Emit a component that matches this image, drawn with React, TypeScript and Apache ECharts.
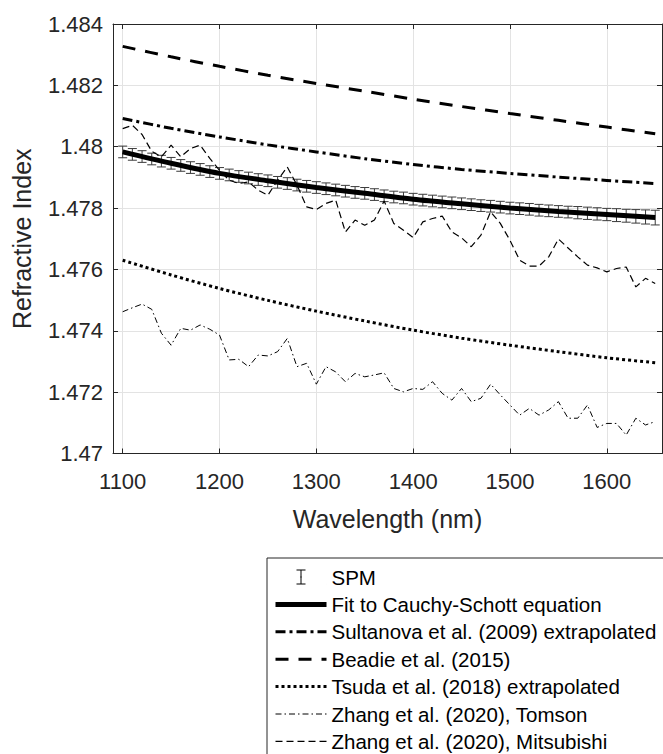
import React, { useEffect, useRef } from 'react';
import * as echarts from 'echarts';

const FONT = "'Liberation Sans', Arial, Helvetica, sans-serif";

// Smooth model curves (sampled every 50 nm)
const coarseWavelengths = [1100, 1150, 1200, 1250, 1300, 1350, 1400, 1450, 1500, 1550, 1600, 1650];
const fitValues = [1.47983, 1.47946, 1.47913, 1.47889, 1.47867, 1.47848, 1.47829, 1.47814, 1.478, 1.47789, 1.47779, 1.47769];
const sultanovaValues = [1.48092, 1.4806, 1.48032, 1.48006, 1.47983, 1.47961, 1.47942, 1.47926, 1.47913, 1.47901, 1.4789, 1.4788];
const beadieValues = [1.48327, 1.48293, 1.48262, 1.48233, 1.48206, 1.48181, 1.48155, 1.48131, 1.48108, 1.48086, 1.48064, 1.48042];
const tsudaValues = [1.4763, 1.47582, 1.47538, 1.47499, 1.47464, 1.47432, 1.47402, 1.47376, 1.47353, 1.47332, 1.47312, 1.47296];

// Measured data (every 10 nm)
const fineWavelengths = [
  1100, 1110, 1120, 1130, 1140, 1150, 1160, 1170, 1180, 1190,
  1200, 1210, 1220, 1230, 1240, 1250, 1260, 1270, 1280, 1290,
  1300, 1310, 1320, 1330, 1340, 1350, 1360, 1370, 1380, 1390,
  1400, 1410, 1420, 1430, 1440, 1450, 1460, 1470, 1480, 1490,
  1500, 1510, 1520, 1530, 1540, 1550, 1560, 1570, 1580, 1590,
  1600, 1610, 1620, 1630, 1640, 1650,
];
const spmValues = [
  1.47983, 1.47975, 1.47968, 1.4796, 1.47953, 1.47946, 1.47939, 1.47932, 1.47926, 1.47919,
  1.47913, 1.47908, 1.47903, 1.47898, 1.47893, 1.47889, 1.47884, 1.4788, 1.47875, 1.47871,
  1.47867, 1.47863, 1.47859, 1.47855, 1.47851, 1.47848, 1.47844, 1.4784, 1.47836, 1.47833,
  1.47829, 1.47826, 1.47823, 1.4782, 1.47817, 1.47814, 1.47811, 1.47808, 1.47806, 1.47803,
  1.478, 1.47798, 1.47796, 1.47793, 1.47791, 1.47789, 1.47787, 1.47785, 1.47783, 1.47781,
  1.47779, 1.47777, 1.47775, 1.47773, 1.47771, 1.47769,
];
const spmErrors = [
  0.00019, 0.00019, 0.00019, 0.00019, 0.00019, 0.00019, 0.00019, 0.00019, 0.00019, 0.00019,
  0.00019, 0.00019, 0.00019, 0.00019, 0.00019, 0.00019, 0.00019, 0.00019, 0.00019, 0.00019,
  0.00019, 0.00019, 0.00019, 0.00019, 0.00019, 0.00019, 0.00019, 0.00019, 0.00019, 0.00019,
  0.00019, 0.00019, 0.00019, 0.00019, 0.00019, 0.00019, 0.00019, 0.00019, 0.00019, 0.00019,
  0.00019, 0.00019, 0.00019, 0.00019, 0.00019, 0.00019, 0.00019, 0.0002, 0.0002, 0.0002,
  0.0002, 0.00021, 0.00021, 0.00022, 0.00023, 0.00024,
];
const tomsonValues = [
  1.47462, 1.47475, 1.47487, 1.4747, 1.47392, 1.47353, 1.47408, 1.47402, 1.47419, 1.47405,
  1.47386, 1.47305, 1.47307, 1.47283, 1.47321, 1.47318, 1.47332, 1.47375, 1.47283, 1.47294,
  1.47226, 1.47283, 1.47266, 1.47234, 1.47261, 1.4725, 1.47256, 1.47263, 1.47212, 1.47201,
  1.47212, 1.47209, 1.47234, 1.47196, 1.47174, 1.47212, 1.47169, 1.4718, 1.47226, 1.47191,
  1.47158, 1.47125, 1.47147, 1.47125, 1.47142, 1.47169, 1.47115, 1.47115, 1.47158, 1.47085,
  1.47098, 1.47098, 1.4706, 1.47115, 1.47093, 1.47104,
];
const mitsubishiValues = [
  1.48059, 1.4807, 1.4804, 1.47985, 1.47967, 1.48005, 1.47967, 1.47994, 1.48005, 1.47962,
  1.47923, 1.47891, 1.4788, 1.47885, 1.47858, 1.47842, 1.47891, 1.47934, 1.47875, 1.47804,
  1.47795, 1.47815, 1.47826, 1.47722, 1.47761, 1.47744, 1.47761, 1.47823, 1.4775, 1.47728,
  1.47704, 1.47755, 1.47766, 1.47774, 1.47722, 1.47703, 1.47674, 1.47712, 1.47788, 1.4775,
  1.47695, 1.4763, 1.47611, 1.47611, 1.47641, 1.47699, 1.4767, 1.47641, 1.47614, 1.47605,
  1.47592, 1.47603, 1.47608, 1.47543, 1.47571, 1.47554,
];

const xTicks = [1100, 1200, 1300, 1400, 1500, 1600];
const seriesNames = [
  'SPM',
  'Fit to Cauchy-Schott equation',
  'Sultanova et al. (2009) extrapolated',
  'Beadie et al. (2015)',
  'Tsuda et al. (2018) extrapolated',
  'Zhang et al. (2020), Tomson',
  'Zhang et al. (2020), Mitsubishi',
];

const AXIS_COLOR = '#262626';
const GRID_COLOR = '#e3e3e3';

const zip = (xs: number[], ys: number[]) => xs.map((x, i) => [x, ys[i]]);

export default function App() {
  const ref = useRef<HTMLDivElement>(null);

  useEffect(() => {
    if (!ref.current) return;
    const chart = echarts.init(ref.current, undefined, { renderer: 'svg' });

    const spmData = fineWavelengths.map((w, i) => [w, spmValues[i], spmErrors[i]]);

    const baseX = {
      type: 'value' as const,
      min: 1090,
      max: 1657,
      axisLine: { show: true, onZero: false, lineStyle: { color: AXIS_COLOR, width: 1 } },
      axisTick: { show: true, inside: true, length: 5, customValues: xTicks, lineStyle: { color: AXIS_COLOR } },
    };
    const baseY = {
      type: 'value' as const,
      min: 1.47,
      max: 1.484,
      interval: 0.002,
      axisLine: { show: true, onZero: false, lineStyle: { color: AXIS_COLOR, width: 1 } },
      axisTick: { show: true, inside: true, length: 5, lineStyle: { color: AXIS_COLOR } },
    };

    const lineSeries = (name: string, xs: number[], ys: number[], width: number, type: any, smooth: boolean, z: number) => ({
      name,
      type: 'line' as const,
      data: zip(xs, ys),
      symbol: 'none',
      showSymbol: false,
      smooth: smooth ? 0.3 : false,
      z,
      lineStyle: { color: '#000', width, type, cap: 'butt' },
      itemStyle: { color: '#000' },
    });

    const spmIcon =
      'path://M0,0 L0.01,0 M21,0 L30,0 M25.5,0 L25.5,14 M21,14 L30,14 M25,7 L26,7 M51,14 L50.99,14';

    const hiddenSymbol = { opacity: 0, color: 'rgba(0,0,0,0)', borderWidth: 0 };
    const legendLine = (name: string, width: number) => ({
      name,
      itemStyle: hiddenSymbol,
      lineStyle: { width, color: '#000' },
    });

    chart.setOption({
      animation: false,
      backgroundColor: '#fff',
      grid: { left: 113, right: 1, top: 24, bottom: 300.5, containLabel: false },
      xAxis: [
        {
          ...baseX,
          position: 'bottom',
          axisLabel: {
            show: true,
            customValues: xTicks,
            fontSize: 22,
            color: AXIS_COLOR,
            fontFamily: FONT,
            margin: 17,
            formatter: (v: number) => String(v),
          },
          splitLine: { show: true, lineStyle: { color: GRID_COLOR, width: 1 } },
          name: 'Wavelength (nm)',
          nameLocation: 'middle',
          nameGap: 53,
          nameTextStyle: { fontSize: 25, color: AXIS_COLOR, fontFamily: FONT },
        },
        {
          ...baseX,
          position: 'top',
          axisLabel: { show: false },
          splitLine: { show: false },
        },
      ],
      yAxis: [
        {
          ...baseY,
          position: 'left',
          axisLabel: {
            show: true,
            fontSize: 22,
            color: AXIS_COLOR,
            fontFamily: FONT,
            margin: 10,
            formatter: (v: number) => String(Number(v.toFixed(3))),
          },
          splitLine: { show: true, lineStyle: { color: GRID_COLOR, width: 1 } },
          name: 'Refractive Index',
          nameLocation: 'middle',
          nameGap: 79,
          nameTextStyle: { fontSize: 25, color: AXIS_COLOR, fontFamily: FONT },
        },
        {
          ...baseY,
          position: 'right',
          axisLabel: { show: false },
          splitLine: { show: false },
        },
      ],
      legend: {
        orient: 'vertical',
        left: 267,
        top: 558,
        height: 230,
        padding: [8, 60, 40, 6],
        borderColor: AXIS_COLOR,
        borderWidth: 1,
        backgroundColor: '#fff',
        itemWidth: 51,
        itemHeight: 14,
        itemGap: 5.4,
        textStyle: { fontSize: 20.5, color: '#000', fontFamily: FONT, lineHeight: 22 },
        data: [
          { name: seriesNames[0], icon: spmIcon, itemStyle: { color: 'none', borderColor: '#000', borderWidth: 1 } },
          legendLine(seriesNames[1], 5),
          legendLine(seriesNames[2], 3),
          legendLine(seriesNames[3], 3),
          legendLine(seriesNames[4], 3),
          legendLine(seriesNames[5], 1),
          legendLine(seriesNames[6], 1.2),
        ],
      },
      series: [
        {
          name: seriesNames[0],
          type: 'custom',
          z: 1,
          data: spmData,
          encode: { x: 0, y: 1 },
          itemStyle: { color: '#333' },
          renderItem: (params: any, api: any) => {
            const x = api.value(0);
            const y = api.value(1);
            const e = api.value(2);
            const top = api.coord([x, y + e]);
            const bot = api.coord([x, y - e]);
            const hw = 4.5;
            const style = { stroke: '#3a3a3a', lineWidth: 1, fill: 'none' };
            return {
              type: 'group',
              children: [
                { type: 'line', shape: { x1: top[0], y1: top[1], x2: bot[0], y2: bot[1] }, style },
                { type: 'line', shape: { x1: top[0] - hw, y1: top[1], x2: top[0] + hw, y2: top[1] }, style },
                { type: 'line', shape: { x1: bot[0] - hw, y1: bot[1], x2: bot[0] + hw, y2: bot[1] }, style },
              ],
            };
          },
        },
        lineSeries(seriesNames[1], coarseWavelengths, fitValues, 5, 'solid', true, 3),
        lineSeries(seriesNames[2], coarseWavelengths, sultanovaValues, 3, [10, 4, 3, 4], true, 4),
        lineSeries(seriesNames[3], coarseWavelengths, beadieValues, 3, [13, 10], true, 4),
        lineSeries(seriesNames[4], coarseWavelengths, tsudaValues, 3, [3, 3], true, 4),
        lineSeries(seriesNames[5], fineWavelengths, tomsonValues, 1, [6, 3, 1.5, 3], false, 5),
        lineSeries(seriesNames[6], fineWavelengths, mitsubishiValues, 1.2, [7, 4], false, 5),
      ],
    });

    return () => {
      chart.dispose();
    };
  }, []);

  return (
    <div
      ref={ref}
      style={{ position: 'absolute', left: 0, top: 0, width: 663, height: 754 }}
    />
  );
}
